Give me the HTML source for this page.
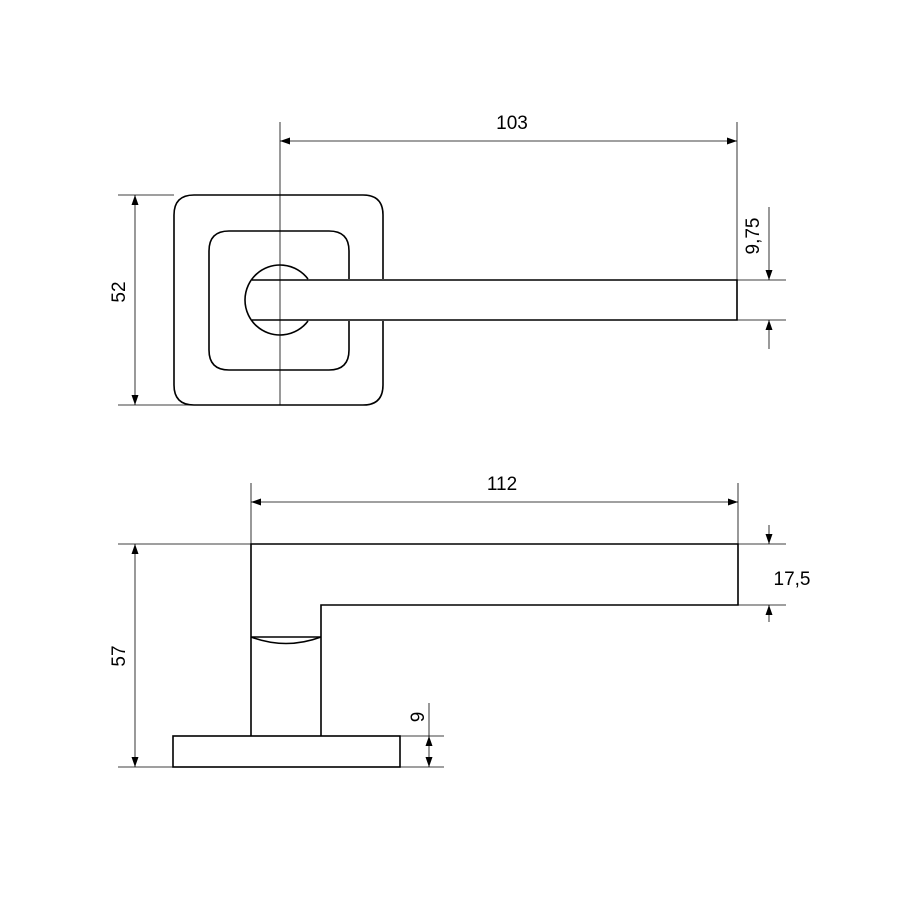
<!DOCTYPE html>
<html><head><style>body{margin:0;background:#fff}svg{display:block}</style></head><body>
<svg width="900" height="900" viewBox="0 0 900 900" xmlns="http://www.w3.org/2000/svg" font-family="Liberation Sans, sans-serif" font-size="19" fill="none">
<defs>
<marker id="a" viewBox="0 0 10 10" refX="10" refY="5" markerWidth="10" markerHeight="10" orient="auto-start-reverse" markerUnits="userSpaceOnUse"><path d="M0,1.5 L10,5 L0,8.5 Z" fill="#000"/></marker>
</defs>
<g stroke="#000" stroke-width="1.6">
<path d="M383,279 V215 Q383,195 363,195 H194 Q174,195 174,215 V385 Q174,405 194,405 H363 Q383,405 383,385 V321"/>
<path d="M349,279 V251 Q349,231 329,231 H229 Q209,231 209,251 V350 Q209,370 229,370 H329 Q349,370 349,350 V321"/>
<path d="M308,279 A35,35 0 1 0 308,321"/>
<path d="M252,280 H737 V320 H252"/>
<path d="M251,736 V544 H738 V605 H321 V736"/>
<rect x="173" y="736" width="227" height="31"/>
<path d="M251,637 H321"/>
<path d="M251,637 Q286,650 321,637"/>
</g>
<g stroke="#000" stroke-width="0.8">
<path d="M280,122 V405"/>
<path d="M737,122 V280"/>
<path d="M118,195 H174 M118,405 H194"/>
<path d="M737,280 H786 M737,320 H786"/>
<path d="M251,483 V544 M738,483 V544"/>
<path d="M118,544 H251 M118,767 H173"/>
<path d="M738,544 H786 M738,605 H786"/>
<path d="M400,736 H444 M400,767 H444"/>
<line x1="280" y1="141" x2="737" y2="141" marker-start="url(#a)" marker-end="url(#a)"/>
<line x1="135" y1="195" x2="135" y2="405" marker-start="url(#a)" marker-end="url(#a)"/>
<line x1="769" y1="207" x2="769" y2="280" marker-end="url(#a)"/>
<line x1="769" y1="349" x2="769" y2="320" marker-end="url(#a)"/>
<line x1="251" y1="502" x2="738" y2="502" marker-start="url(#a)" marker-end="url(#a)"/>
<line x1="135" y1="544" x2="135" y2="767" marker-start="url(#a)" marker-end="url(#a)"/>
<line x1="769" y1="525" x2="769" y2="544" marker-end="url(#a)"/>
<line x1="769" y1="622" x2="769" y2="605" marker-end="url(#a)"/>
<line x1="429" y1="703" x2="429" y2="736"/>
<line x1="429" y1="751" x2="429" y2="736" marker-end="url(#a)"/>
<line x1="429" y1="751" x2="429" y2="767" marker-end="url(#a)"/>
</g>
<g fill="#000" stroke="none" text-anchor="middle">
<text x="512" y="129">103</text>
<text x="502" y="490">112</text>
<text x="792" y="585">17,5</text>
<text transform="translate(125,292) rotate(-90)">52</text>
<text transform="translate(125,656) rotate(-90)">57</text>
<text transform="translate(759,236) rotate(-90)">9,75</text>
<text transform="translate(424,717) rotate(-90)">9</text>
</g>
</svg>
</body></html>
